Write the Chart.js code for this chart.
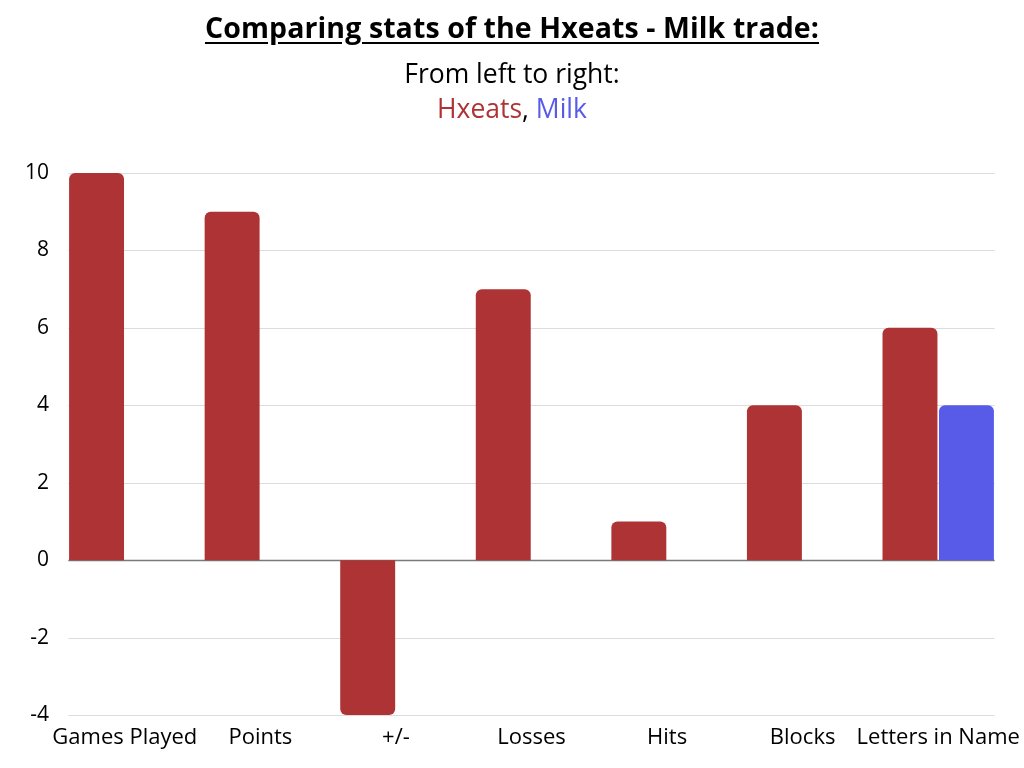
<!DOCTYPE html>
<html>
<head>
<meta charset="utf-8">
<script src="https://cdn.jsdelivr.net/npm/chart.js@4/dist/chart.umd.min.js"></script>
<style>
  html, body { margin: 0; padding: 0; background: #fff; }
  #wrap { position: relative; width: 1024px; height: 768px; }
  #head { position: absolute; left: 0; top: 0; width: 1024px; text-align: center; font-family: "Open Sans", sans-serif; color: #000; }
  #head h1 { margin: 0; position: absolute; top: 7px; width: 100%; font-size: 28.5px; font-weight: 700; text-decoration: underline; text-underline-offset: 4px; line-height: 40px; letter-spacing: 0.1px; }
  #head .sub { position: absolute; width: 100%; font-size: 26.5px; line-height: 34px; }
</style>
</head>
<body>
<div id="wrap">
  <canvas id="myChart" width="1024" height="768"></canvas>
  <div id="head">
    <h1>Comparing stats of the Hxeats - Milk trade:</h1>
    <div class="sub" style="top:56px">From left to right:</div>
    <div class="sub" style="top:91px"><span style="color:#ad3335">Hxeats</span>, <span style="color:#585be8">Milk</span></div>
  </div>
</div>
<script>
// categories and values
var stats = ['Games Played', 'Points', '+/-', 'Losses', 'Hits', 'Blocks', 'Letters in Name'];
var hxeats = [10, 9, -4, 7, 1, 4, 6];
var milk = [0, 0, 0, 0, 0, 0, 4];
var yTicks = [-4, -2, 0, 2, 4, 6, 8, 10];

// grid lines only span the bars, not the category padding
var gridLines = {
  id: 'gridLines',
  beforeDatasetsDraw: function(chart) {
    var c = chart.ctx, a = chart.chartArea, y = chart.scales.y;
    var inset = (a.right - a.left) / stats.length * (1 - 0.833) / 2;
    c.save();
    yTicks.forEach(function(v) {
      var py = Math.round(y.getPixelForValue(v)) + 0.5;
      c.strokeStyle = v === 0 ? '#7a7a7a' : '#dcdcdc';
      c.lineWidth = v === 0 ? 1.5 : 1;
      c.beginPath();
      c.moveTo(a.left + inset, py);
      c.lineTo(a.right - inset, py);
      c.stroke();
    });
    c.restore();
  }
};

var ctx = document.getElementById('myChart').getContext('2d');
var myChart = new Chart(ctx, {
  type: 'bar',
  data: {
    labels: stats,
    datasets: [{
      label: 'Hxeats',
      data: hxeats,
      backgroundColor: '#ad3335',
      borderRadius: 6,
      borderSkipped: 'start',
      categoryPercentage: 0.833,
      barPercentage: 0.973
    }, {
      label: 'Milk',
      data: milk,
      backgroundColor: '#585be8',
      borderRadius: 6,
      borderSkipped: 'start',
      categoryPercentage: 0.833,
      barPercentage: 0.973
    }]
  },
  options: {
    responsive: false,
    animation: false,
    layout: { padding: { top: 173, right: 18, left: 0, bottom: 0 } },
    plugins: { legend: { display: false }, tooltip: { enabled: false } },
    scales: {
      x: {
        grid: { display: false },
        border: { display: false },
        ticks: { color: '#000', font: { family: 'Open Sans', size: 22 }, padding: 2, maxRotation: 0, autoSkip: false },
        afterFit: function(s) { s.height = 53; }
      },
      y: {
        min: -4,
        max: 10,
        grid: { display: false },
        border: { display: false },
        afterBuildTicks: function(s) { s.ticks = yTicks.map(function(v) { return { value: v }; }); },
        ticks: { color: '#000', font: { family: 'Open Sans', size: 21 }, padding: 0 },
        afterFit: function(s) { s.width = 57; }
      }
    }
  },
  plugins: [gridLines]
});
</script>
</body>
</html>
